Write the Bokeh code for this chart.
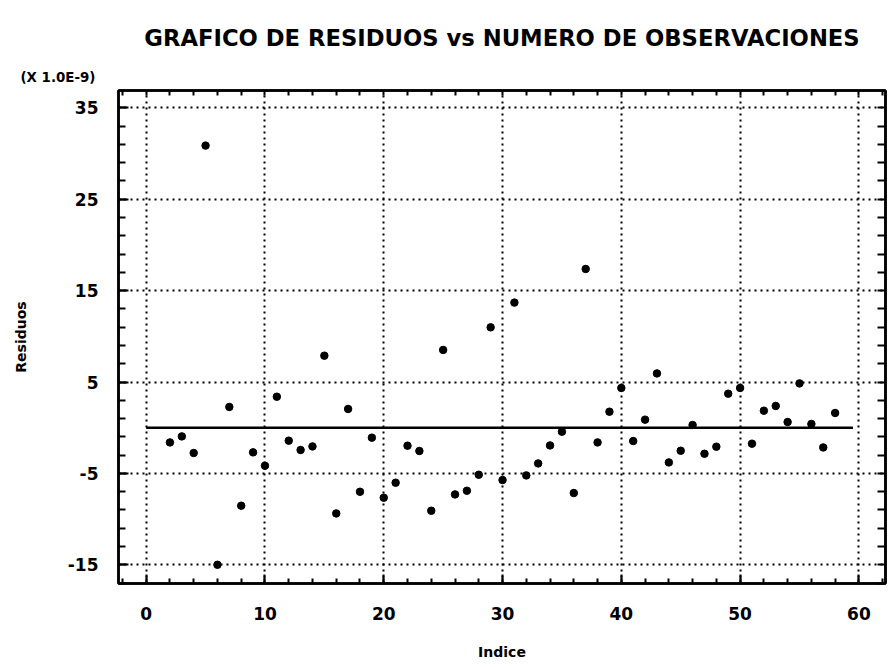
from bokeh.plotting import figure
from bokeh.models import Range1d, LinearAxis, FixedTicker, Title, ColumnDataSource, Grid
from bokeh.embed import file_html
from bokeh.resources import INLINE

# ---- data ----
indice = list(range(2, 59))
residuos = [-1.61, -0.95, -2.77, 30.87, -15.0, 2.27, -8.54, -2.70, -4.16, 3.39,
            -1.42, -2.44, -2.05, 7.88, -9.38, 2.05, -7.01, -1.09, -7.66, -6.02,
            -1.97, -2.55, -9.09, 8.51, -7.30, -6.90, -5.15, 10.98, -5.73, 13.69,
            -5.22, -3.91, -1.94, -0.44, -7.15, 17.37, -1.61, 1.75, 4.35, -1.46,
            0.88, 5.94, -3.80, -2.52, 0.30, -2.85, -2.08, 3.72, 4.35, -1.75,
            1.86, 2.38, 0.62, 4.85, 0.41, -2.16, 1.61]
zero_x = [0, 59.5]
zero_y = [0, 0]
x_major = [0, 10, 20, 30, 40, 50, 60]
x_minor = list(range(-2, 63, 2))
y_major = [-15, -5, 5, 15, 25, 35]
y_labels = ["-15", "-5", "5", "15", "25", "35"]
y_minor = list(range(-17, 38, 2))

title_text = "GRAFICO DE RESIDUOS vs NUMERO DE OBSERVACIONES"
scale_text = "(X 1.0E-9)"
FONT = "DejaVu Sans"

p = figure(width=888, height=667,
           x_range=Range1d(-2.33, 62.24), y_range=Range1d(-17.05, 36.9),
           output_backend="svg", toolbar_location=None,
           x_axis_location=None, y_axis_location=None,
           min_border_left=118, min_border_right=3,
           min_border_top=90, min_border_bottom=84,
           background_fill_color="white", border_fill_color="white",
           outline_line_color="black", outline_line_width=2.5)

p.title.text = title_text
p.title.text_font = FONT
p.title.text_font_size = "22.7px"
p.title.text_font_style = "bold"
p.title.text_color = "black"
p.title.align = "center"
p.title.offset = 6
p.title.standoff = 22


def style_axis(ax, major, minor, tin, min_in, labels=True):
    ax.ticker = FixedTicker(ticks=major, minor_ticks=minor)
    ax.axis_line_width = 2.5
    ax.axis_line_color = "black"
    ax.major_tick_in = tin
    ax.major_tick_out = 0
    ax.minor_tick_in = min_in
    ax.minor_tick_out = 0
    ax.major_tick_line_width = 2
    ax.minor_tick_line_width = 2
    ax.major_tick_line_color = "black"
    ax.minor_tick_line_color = "black"
    if labels:
        ax.major_label_text_font = FONT
        ax.major_label_text_font_size = "17px"
        ax.major_label_text_font_style = "bold"
        ax.major_label_text_color = "black"
        ax.axis_label_text_font = FONT
        ax.axis_label_text_font_size = "14px"
        ax.axis_label_text_font_style = "bold"
        ax.axis_label_text_color = "black"
    else:
        ax.major_label_standoff = 0


# top axis (closest to frame), then scale note, then main title
xt = LinearAxis()
style_axis(xt, [], x_minor, 5, 5, labels=False)
p.add_layout(xt, "above")

sub = Title(text=scale_text, text_font=FONT, text_font_size="13.4px",
            text_font_style="bold", text_color="black",
            align="left", offset=-98, standoff=12)
p.add_layout(sub, "above")

xb = LinearAxis(axis_label="Indice")
style_axis(xb, x_major, x_minor, 9, 5)
xb.major_label_standoff = 23
xb.axis_label_standoff = 21
p.add_layout(xb, "below")

yl = LinearAxis(axis_label="Residuos")
style_axis(yl, y_major, y_minor, 10, 7)
yl.major_label_overrides = dict(zip(y_major, y_labels))
yl.major_label_standoff = 20
yl.axis_label_standoff = 36
yl.major_label_orientation = "horizontal"
p.add_layout(yl, "left")

yr = LinearAxis()
style_axis(yr, [], y_minor, 8, 8, labels=False)
p.add_layout(yr, "right")

p.xgrid.visible = False
p.ygrid.visible = False
gx = Grid(dimension=0, ticker=FixedTicker(ticks=x_major), grid_line_color="black",
          grid_line_width=2, grid_line_dash="2 4")
gy = Grid(dimension=1, ticker=FixedTicker(ticks=y_major), grid_line_color="black",
          grid_line_width=2, grid_line_dash="2 4")
p.add_layout(gx)
p.add_layout(gy)

p.line(zero_x, zero_y, line_color="black", line_width=2.5)
src = ColumnDataSource(dict(x=indice, y=residuos))
p.scatter("x", "y", source=src, size=7.5, color="black")

open("out.html", "w").write(file_html(p, INLINE))
